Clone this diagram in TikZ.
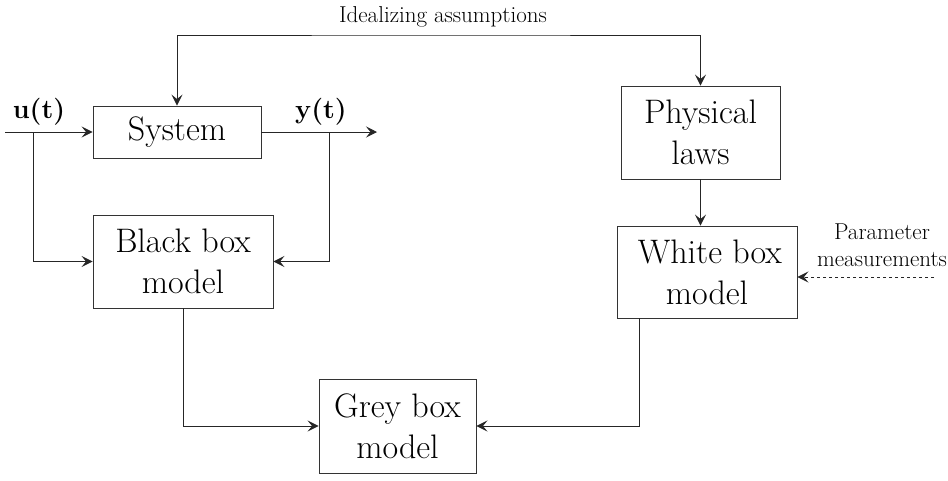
\documentclass[tikz,border=0pt]{standalone}
\usetikzlibrary{arrows.meta}
\usetikzlibrary{backgrounds,positioning}
\newcommand{\bigtxt}{\fontsize{34}{41}\selectfont}
\newcommand{\labtxt}{\fontsize{27}{33}\selectfont}
\newcommand{\smalltxt}{\fontsize{23}{27}\selectfont}

\begin{document}
\begin{tikzpicture}[x=1pt,y=-1pt,>={Stealth[length=11pt,width=11pt,inset=4.5pt]}]
    \tikzstyle{every node}=[inner sep=0pt];
    \tikzstyle{block}=[draw=black!80,line width=0.9pt,align=center,font=\bigtxt];
    \tikzstyle{wire}=[draw=black!85,line width=0.9pt];
    \useasboundingbox (0,0) rectangle (948,480);

    \node[block,minimum width=168pt,minimum height=52pt] (sys) at (177,132) {System};
    \node[block,minimum width=180pt,minimum height=93pt] (black) at (183,261.5) {Black box\\model};
    \node[block,minimum width=157pt,minimum height=94pt] (grey) at (397.5,426) {Grey box\\model};
    \node[block,minimum width=159pt,minimum height=93pt] (phys) at (700.5,132.5) {Physical\\laws};
    \node[block,minimum width=180pt,minimum height=92pt] (white) at (707,272) {\,White box\\model};

    \node[font=\labtxt\bfseries] (ulab) at (39,112) {u(t)};
    \node[font=\labtxt\bfseries] (ylab) at (321,112) {y(t)};
    \node[font=\smalltxt] (idlab) at (443,17) {Idealizing assumptions};
    \node[font=\smalltxt,align=center] (plab) at (882,245) {Parameter\\measurements};

    \coordinate (idl) at (443,35);
    \coordinate (uin) at (5,132);
    \coordinate (ubr) at (33,132);
    \coordinate (yout) at (377,132);
    \coordinate (ybr) at (329,132);
    \coordinate (pin) at (934,277);
    \coordinate (wbr) at (639,318);

    \draw[wire,<->] (sys.north) |- (idl) -| (phys.north);
    \draw[wire,->] (uin) -- (sys.west);
    \draw[wire,->] (ubr) |- (black.west);
    \draw[wire,->] (sys.east) -- (yout);
    \draw[wire,->] (ybr) |- (black.east);
    \draw[wire,->] (phys.south) -- (white.north -| phys.south);
    \draw[wire,->,dashed] (pin) -- (pin -| white.east);
    \draw[wire,->] (black.south) |- (grey.west);
    \draw[wire,->] (wbr) |- (grey.east);
  \end{tikzpicture}
\end{document}
